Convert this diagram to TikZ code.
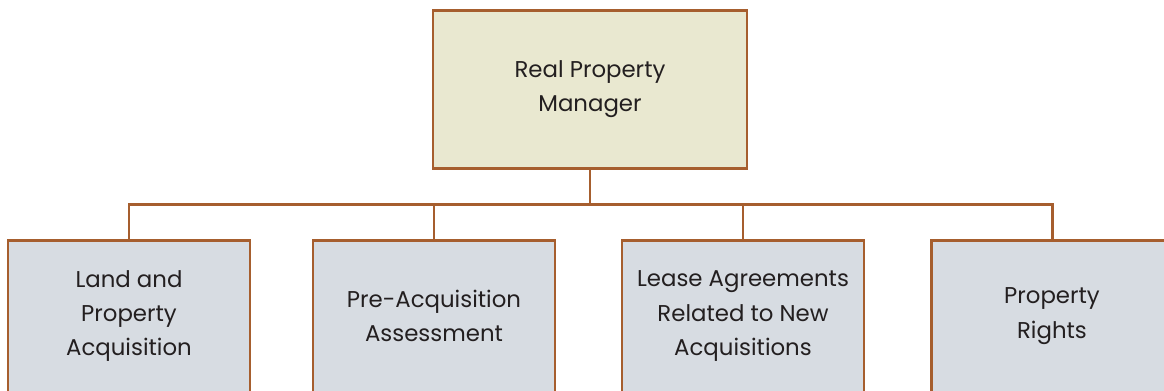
\documentclass[tikz,border=0pt]{standalone}
\usepackage{fontspec}
\setmainfont{Poppins}
\usetikzlibrary{positioning,calc}
\definecolor{framebrown}{HTML}{A65E2E}
\definecolor{headfill}{HTML}{E9E8D0}
\definecolor{unitfill}{HTML}{D7DCE2}
\definecolor{inkgray}{HTML}{231F20}
\tikzset{
    box/.style={draw=framebrown, line width=1.7pt, align=center, text=inkgray,
        font=\fontsize{13}{19.5}\selectfont, inner sep=0pt},
    headbox/.style={box, fill=headfill, minimum width=314*0.02cm, minimum height=158*0.02cm},
    unitbox/.style={box, fill=unitfill, minimum width=242*0.02cm, minimum height=152*0.02cm},
    link/.style={draw=framebrown, line width=1.7pt}
}

\begin{document}
\begin{tikzpicture}[x=0.02cm, y=-0.02cm]
    \clip (0,0) rectangle (1164,390);
    \fill[white] (0,0) rectangle (1164,390);

    % Top of the chart
    \node[headbox] (manager) at (590,89) {Real Property\\Manager};

    % Units
    \node[unitbox] (land) at (129,316) {Land and\\Property\\Acquisition};
    \node[unitbox] (preacq) at (434,316) {Pre-Acquisition\\Assessment};
    \node[unitbox] (lease) at (743,316) {Lease Agreements\\Related to New\\Acquisitions};
    \node[unitbox] (rights) at (1052,316) {Property\\Rights};

    % Connectors
    \foreach \n in {land,preacq,lease,rights}
        \draw[link] (manager.south) -- ++(0,35) -| (\n.north);
\end{tikzpicture}
\end{document}
